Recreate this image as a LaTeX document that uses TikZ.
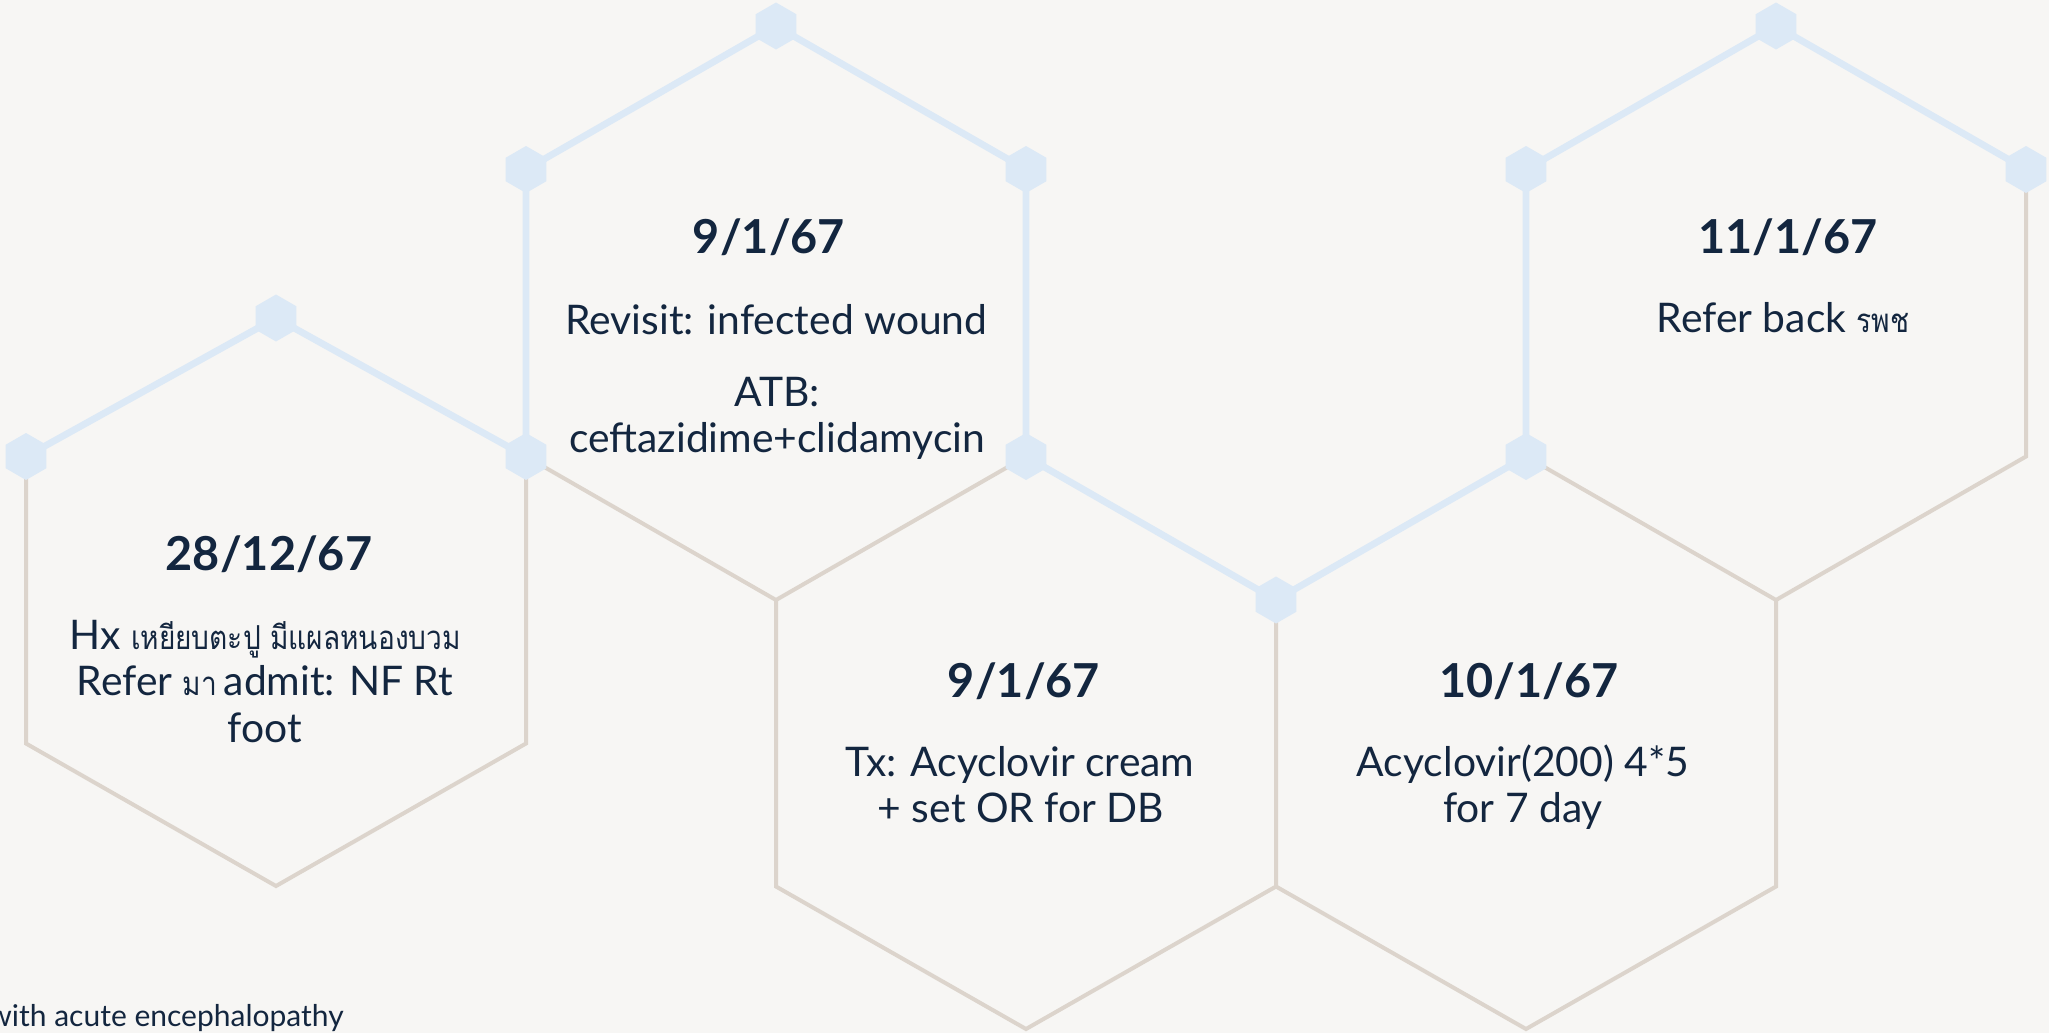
\documentclass[tikz,border=0pt]{standalone}
\usepackage{fontspec}
\setmainfont{Lato}
\newfontfamily\thaifont[Script=Thai,FakeStretch=0.85]{Loma}
\usetikzlibrary{shapes.geometric}
\definecolor{bg}{HTML}{F7F6F4}
\definecolor{hexblue}{HTML}{DCE9F6}
\definecolor{hextan}{HTML}{DCD4CC}
\definecolor{ink}{HTML}{13263F}
\newcommand{\thtxt}[1]{{\thaifont\fontsize{16.5}{19}\selectfont #1}}
\begin{document}
\begin{tikzpicture}[x=0.5pt,y=-0.5pt,
  tanline/.style={draw=hextan,line width=2pt,line join=miter},
  blueline/.style={draw=hexblue,line width=3.4pt,line join=round},
  marker/.style={regular polygon,regular polygon sides=6,regular polygon rotate=30,
     minimum size=23.5pt,inner sep=0pt,fill=hexblue,draw=none},
  txt/.style={anchor=base,inner sep=0pt,text=ink,font=\fontsize{20.4}{24}\selectfont},
  datetxt/.style={anchor=base,inner sep=0pt,text=ink,font=\fontsize{23.4}{28}\selectfont\bfseries}]
\useasboundingbox (0,0) rectangle (2049,1033);
\fill[bg] (0,0) rectangle (2049,1033);
\clip (0,0) rectangle (2049,1033);
% hexagon vertices
% hex 1
\coordinate (a1) at (276,318);   \coordinate (a2) at (526,456.5);
\coordinate (a3) at (526,743.5); \coordinate (a4) at (276,886);
\coordinate (a5) at (26,743.5);  \coordinate (a6) at (26,456.5);
% hex 2 (776,313)
\coordinate (b1) at (776,26);    \coordinate (b2) at (1026,169.5);
\coordinate (b3) at (1026,456.5);\coordinate (b4) at (776,600);
\coordinate (b6) at (526,169.5);
% hex 3 (1776,313)
\coordinate (c1) at (1776,26);   \coordinate (c2) at (2026,169.5);
\coordinate (c3) at (2026,456.5);\coordinate (c4) at (1776,600);
\coordinate (c5) at (1526,456.5);\coordinate (c6) at (1526,169.5);
% hex 4 (1026,743)
\coordinate (d2) at (1276,600);  \coordinate (d3) at (1276,886.5);
\coordinate (d4) at (1026,1029); \coordinate (d5) at (776,886.5);
% hex 5 (1526,743)
\coordinate (e3) at (1776,886.5);\coordinate (e4) at (1526,1029);
% tan outlines
\path[tanline] (a6) -- (a5) -- (a4) -- (a3) -- (a2);
\path[tanline] (a2) -- (b4) -- (b3);
\path[tanline] (b4) -- (d5) -- (d4) -- (d3) -- (d2);
\path[tanline] (d3) -- (e4) -- (e3) -- (c4);
\path[tanline] (c5) -- (c4) -- (c3) -- (c2);
% blue path
\path[blueline] (a6) -- (a1) -- (a2) -- (b6) -- (b1) -- (b2) -- (b3) -- (d2) -- (c5) -- (c6) -- (c1) -- (c2);
% markers
\foreach \p in {a1,a2,a6,b1,b2,b3,b6,c1,c2,c5,c6,d2}
  \node[marker] (m\p) at (\p) {};
% texts hex 1
\node[datetxt] (t1d) at (269,570.6) {28/12/67};
\node[txt] (t1a) at (265,649.7) {Hx \thtxt{เหยียบตะปู มีแผลหนองบวม}};
\node[txt] (t1b) at (265,695) {Refer \thtxt{มา}\,admit: NF Rt};
\node[txt] (t1c) at (265,742.6) {foot};
% texts hex 2
\node[datetxt] (t2d) at (769,253) {9/1/67};
\node[txt] (t2a) at (776.5,334) {Revisit: infected wound};
\node[txt] (t2b) at (777,406.5) {ATB:};
\node[txt] (t2c) at (777,452.7) {ceftazidime+clidamycin};
% texts hex 3
\node[datetxt] (t3d) at (1788,253) {11/1/67};
\node[txt] (t3a) at (1783,332) {Refer back \thtxt{รพช}};
% texts hex 4
\node[datetxt] (t4d) at (1024,697) {9/1/67};
\node[txt] (t4a) at (1020,776.6) {Tx: Acyclovir cream};
\node[txt] (t4b) at (1021,822.7) {+ set OR for DB};
% texts hex 5
\node[datetxt] (t5d) at (1529,697) {10/1/67};
\node[txt] (t5a) at (1523,776.6) {Acyclovir(200) 4*5};
\node[txt] (t5b) at (1523,822.7) {for 7 day};
% bottom text
\node[txt,anchor=base east,font=\fontsize{15}{18}\selectfont] (tb) at (344,1026) {with acute encephalopathy};
\end{tikzpicture}
\end{document}
